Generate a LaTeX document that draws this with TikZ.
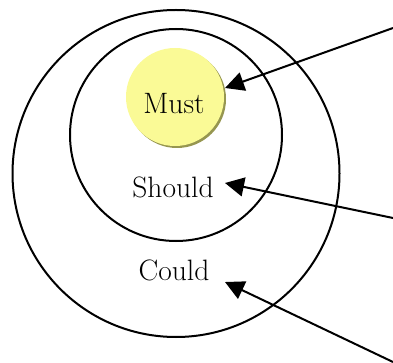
\documentclass[tikz,border=0pt]{standalone}
\usepackage{fontspec}
\setmainfont{Latin Modern Roman}
\usetikzlibrary{shadows,arrows.meta}
\definecolor{mustyellow}{RGB}{250,250,150}
\definecolor{mustshadow}{RGB}{150,150,80}
\tikzset{
  ring/.style={circle, draw=black, line width=2pt, inner sep=0pt},
  lbl/.style={font=\fontsize{29.5}{32}\selectfont, inner sep=0pt},
  pointer/.style={line width=2pt, -{Triangle[length=19pt,width=19pt]}}
}
\begin{document}
\begin{tikzpicture}[x=1pt,y=-1pt]
\useasboundingbox (0,0) rectangle (393,363);
\node[ring, minimum size=327pt] (outer) at (176,173.5) {};
\node[ring, minimum size=212pt] (inner) at (176,135) {};
\node[circle, fill=mustyellow, minimum size=98pt, inner sep=0pt,
      drop shadow={shadow xshift=2pt, shadow yshift=-2pt, fill=mustshadow, opacity=1}] (must) at (175,97) {};
\node[lbl] (musttxt) at (174,104) {Must};
\node[lbl] (should) at (173,187) {Should};
\node[lbl] (could) at (174,270) {Could};
\coordinate (s1) at (393,28);
\coordinate (s2) at (393,218);
\coordinate (s3) at (393,362);
\coordinate (t1) at (225,88);
\coordinate (t2) at (225,183);
\coordinate (t3) at (225,282);
\draw[pointer] (s1) -- (t1);
\draw[pointer] (s2) -- (t2);
\draw[pointer] (s3) -- (t3);
\end{tikzpicture}
\end{document}
